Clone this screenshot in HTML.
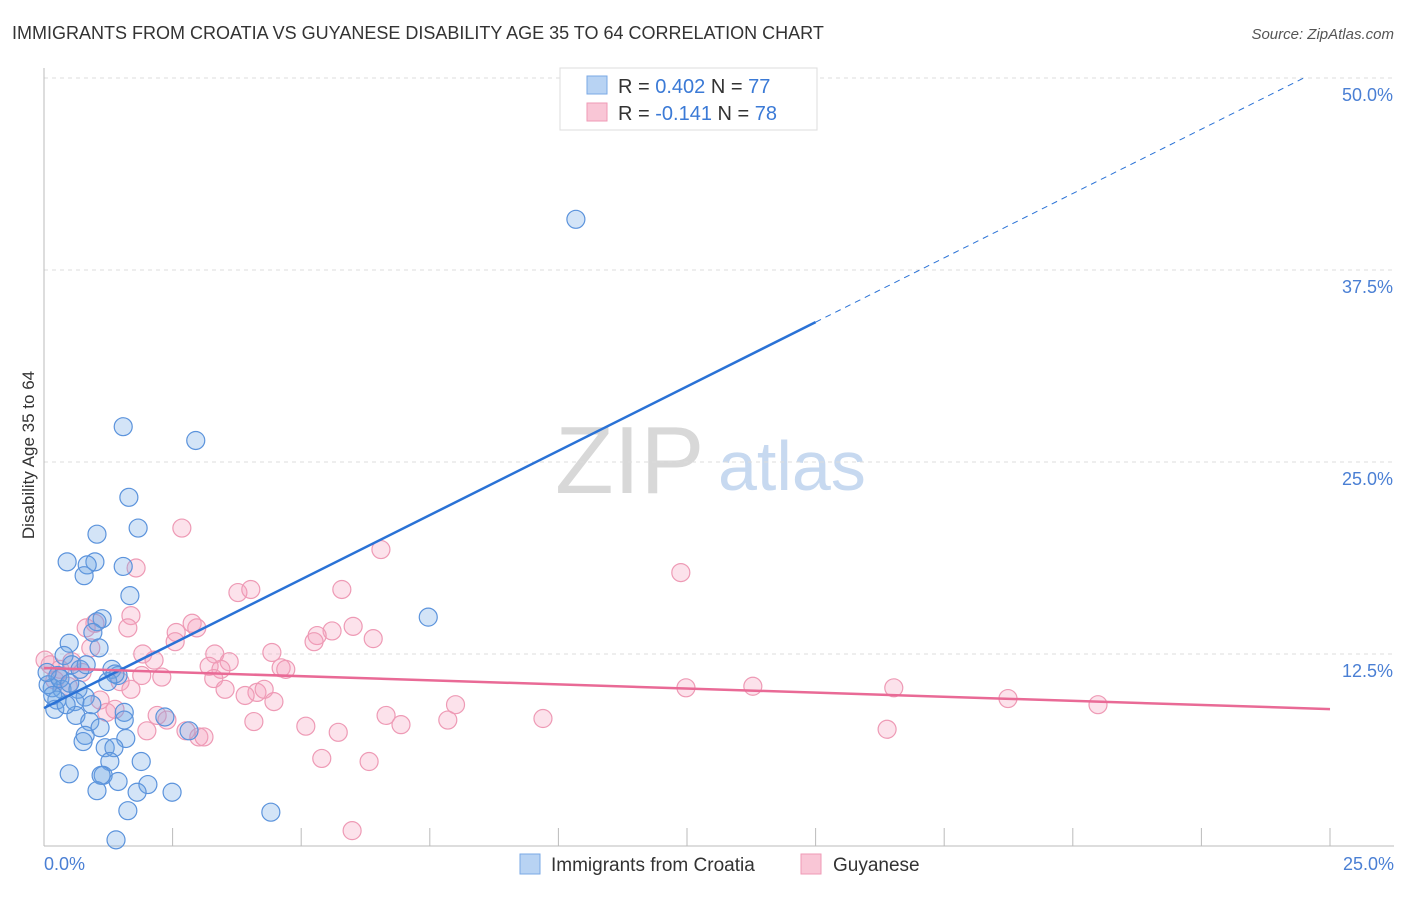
<!DOCTYPE html>
<html><head><meta charset="utf-8"><style>
body{margin:0;background:#fff;font-family:"Liberation Sans",sans-serif}
svg text{font-family:"Liberation Sans",sans-serif}
</style></head><body>
<svg width="1406" height="892" viewBox="0 0 1406 892">
<text x="12" y="39" font-size="18" fill="#333">IMMIGRANTS FROM CROATIA VS GUYANESE DISABILITY AGE 35 TO 64 CORRELATION CHART</text>
<text x="1394" y="39" font-size="15" fill="#555" font-style="italic" text-anchor="end">Source: ZipAtlas.com</text>
<g>
<text x="555" y="493" font-size="96" fill="#d8d8d8" font-family="Liberation Serif,serif">ZIP</text>
<text x="718" y="490" font-size="70" fill="#c7d9f0">atlas</text>
</g>
<g id="grid"></g>
<line x1="44" y1="68" x2="44" y2="846" stroke="#bbb"/>
<line x1="44" y1="846" x2="1394" y2="846" stroke="#bbb"/>
<g id="ticks"></g>
<g id="pts"></g>
<g id="lines"></g>
<text transform="translate(34,455) rotate(-90)" font-size="17" fill="#333" text-anchor="middle">Disability Age 35 to 64</text>
<g>
<rect x="560" y="68" width="257" height="62" fill="#fff" stroke="#ddd"/>
<rect x="587" y="76" width="20" height="18" fill="#b8d3f3" stroke="#7aa8e6"/>
<rect x="587" y="103" width="20" height="18" fill="#f9c6d6" stroke="#ef9ab6"/>
<text x="618" y="93" font-size="20" fill="#333">R = <tspan fill="#3b7ad6">0.402</tspan>   N = <tspan fill="#3b7ad6">77</tspan></text>
<text x="618" y="120" font-size="20" fill="#333">R = <tspan fill="#3b7ad6">-0.141</tspan>   N = <tspan fill="#3b7ad6">78</tspan></text>
</g>
<g>
<rect x="520" y="854" width="20" height="20" fill="#b8d3f3" stroke="#7aa8e6"/>
<text x="551" y="871" font-size="19" fill="#333">Immigrants from Croatia</text>
<rect x="801" y="854" width="20" height="20" fill="#f9c6d6" stroke="#ef9ab6"/>
<text x="833" y="871" font-size="19" fill="#333">Guyanese</text>
</g>
</svg>
<script>
const yTicks=[12.5,25,37.5,50];
const yTickLabels=["12.5%","25.0%","37.5%","50.0%"];
const xTickLabels=["0.0%","25.0%"];
const blueX=[10.34,1.54,2.95,1.65,1.83,1.03,0.45,0.99,0.84,1.54,0.78,1.67,7.47,1.13,1.03,0.95,0.49,1.07,0.39,1.32,1.44,0.54,0.27,0.16,0.35,0.66,0.80,0.6,0.25,0.21,1.24,0.62,0.89,1.56,1.56,2.35,2.82,1.09,0.80,0.76,1.59,1.19,1.36,1.89,1.28,0.49,1.15,1.11,1.44,2.02,1.81,1.03,2.49,1.63,4.41,1.40,0.08,0.31,0.5,0.17,0.43,0.7,0.06,0.93,1.38,0.82];
const blueY=[40.8,27.3,26.4,22.7,20.7,20.3,18.5,18.5,18.3,18.2,17.6,16.3,14.9,14.8,14.6,13.9,13.2,12.9,12.4,11.5,11.1,11.8,11.1,10.3,10.2,10.2,9.7,9.4,9.5,8.9,10.7,8.5,8.1,8.7,8.2,8.4,7.5,7.7,7.2,6.8,7.0,6.4,6.4,5.5,5.5,4.7,4.6,4.6,4.2,4.0,3.5,3.6,3.5,2.3,2.2,0.4,10.5,10.9,10.6,9.8,9.2,11.5,11.3,9.2,11.2,11.8];
const pinkX=[2.68,6.55,1.79,12.38,3.77,4.02,5.79,1.69,0.99,1.63,0.82,2.88,2.97,2.57,2.55,6.01,5.6,5.31,5.25,6.4,0.91,1.92,2.14,3.32,3.6,3.21,3.44,4.43,4.61,4.7,1.9,2.29,3.3,1.48,1.69,3.52,4.14,4.28,3.91,4.47,8.0,12.48,13.78,16.52,18.74,20.49,16.39,9.7,6.65,6.94,7.85,5.09,5.72,4.08,2.2,2.39,1.38,1.22,2.0,2.76,3.01,3.11,5.4,6.32,5.99,0.12,0.31,0.54,0.74,0.21,0.47,0.02,1.09];
const pinkY=[20.7,19.3,18.1,17.8,16.5,16.7,16.7,15.0,14.5,14.2,14.2,14.5,14.2,13.9,13.3,14.3,14.0,13.7,13.3,13.5,12.9,12.5,12.1,12.5,12.0,11.7,11.5,12.6,11.6,11.5,11.1,11.0,10.9,10.7,10.2,10.2,10.0,10.2,9.8,9.4,9.2,10.3,10.4,10.3,9.6,9.2,7.6,8.3,8.5,7.9,8.2,7.8,7.4,8.1,8.5,8.2,8.9,8.7,7.5,7.5,7.1,7.1,5.7,5.5,1.0,11.8,11.5,12.0,11.3,10.8,10.4,12.1,9.5];
const blueFit=[8.98,1.675];
const pinkFit=[11.59,-0.107];
const NS="http://www.w3.org/2000/svg";
const X=v=>44+v*51.44, Y=v=>846-v*15.36;
function mk(t,a,p){const e=document.createElementNS(NS,t);for(const k in a)e.setAttribute(k,a[k]);p.appendChild(e);return e;}
const grid=document.getElementById('grid'),ticks=document.getElementById('ticks');
yTicks.forEach((v,i)=>{
 const l=mk('line',{x1:44,x2:1394,y1:Y(v),y2:Y(v),stroke:'#ddd','stroke-dasharray':'4,4'},grid);
 
 
 const t=mk('text',{x:1393,y:Y(v)+23,'font-size':18,fill:'#4a7fd4','text-anchor':'end'},ticks);
 t.textContent=yTickLabels[i];
 
 
});
for(let i=1;i<=10;i++){const l=mk('line',{x1:X(i*2.5),x2:X(i*2.5),y1:828,y2:846,stroke:'#bbb'},ticks);
 
 }
const t0=mk('text',{x:44,y:870,'font-size':18,fill:'#4a7fd4'},ticks);t0.textContent=xTickLabels[0];


const t1=mk('text',{x:1394,y:870,'font-size':18,fill:'#4a7fd4','text-anchor':'end'},ticks);t1.textContent=xTickLabels[1];


const pts=document.getElementById('pts');
pinkX.forEach((x,i)=>{const c=mk('circle',{cx:X(x),cy:Y(pinkY[i]),r:9,fill:'rgba(244,160,190,0.3)',stroke:'#ee9ab5','stroke-width':1.2},pts);
 
 });
blueX.forEach((x,i)=>{const c=mk('circle',{cx:X(x),cy:Y(blueY[i]),r:9,fill:'rgba(110,165,230,0.3)',stroke:'#5b93dc','stroke-width':1.2},pts);
 
 });
const lines=document.getElementById('lines');
const bl=mk('line',{x1:X(0),y1:Y(blueFit[0]),x2:X(15),y2:Y(blueFit[0]+15*blueFit[1]),stroke:'#2a72d6','stroke-width':2.5},lines);


const xe=(50-blueFit[0])/blueFit[1];
const bd=mk('line',{x1:X(15),y1:Y(blueFit[0]+15*blueFit[1]),x2:X(xe),y2:Y(50),stroke:'#2a72d6','stroke-width':1,'stroke-dasharray':'6,5'},lines);


const pl=mk('line',{x1:X(0),y1:Y(pinkFit[0]),x2:X(25),y2:Y(pinkFit[0]+25*pinkFit[1]),stroke:'#e96a96','stroke-width':2.5},lines);


</script>
</body></html>
